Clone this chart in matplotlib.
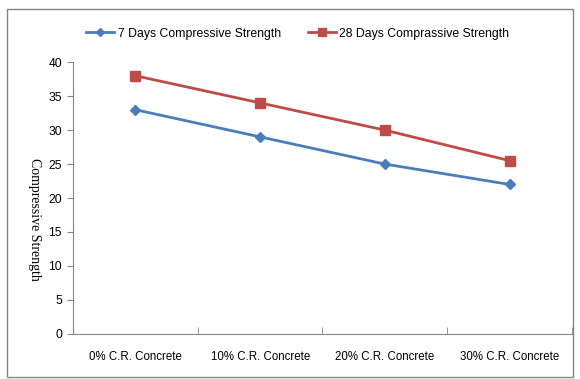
import matplotlib.pyplot as plt
from matplotlib.patches import Rectangle

categories = ["0% C.R. Concrete", "10% C.R. Concrete", "20% C.R. Concrete", "30% C.R. Concrete"]
days7 = [33, 29, 25, 22]
days28 = [38, 34, 30, 25.5]
yticks = [0, 5, 10, 15, 20, 25, 30, 35, 40]

plt.rcParams['font.family'] = ['Liberation Sans', 'DejaVu Sans']

fig = plt.figure(figsize=(5.8, 3.79), dpi=100)
ax = fig.add_axes([0.126, 0.119, 0.86, 0.717])

x = list(range(len(categories)))
ax.plot(x, days7, color="#4A7EBB", lw=2, marker="D", ms=5, label="7 Days Compressive Strength")
ax.plot(x, days28, color="#BE4B48", lw=2, marker="s", ms=7, label="28 Days Comprassive Strength")

ax.set_xlim(-0.5, len(categories) - 0.5)
ax.set_ylim(0, 40)
ax.set_yticks(yticks)
ax.set_xticks(x)
ax.set_xticklabels(categories, fontsize=8.3)
ax.set_xticks([i - 0.5 for i in range(len(categories) + 1)], minor=True)
ax.tick_params(axis="x", which="major", length=0, pad=12)
ax.tick_params(axis="x", which="minor", length=5, color="#868686", direction="in")
ax.tick_params(axis="y", length=4, color="#868686", labelsize=8.7, pad=4)

for s in ["top", "right"]:
    ax.spines[s].set_visible(False)
for s in ["left", "bottom"]:
    ax.spines[s].set_color("#868686")

ax.set_ylabel("Compressive Strength", rotation=-90, family="Liberation Serif",
              fontsize=10, labelpad=14)
ax.yaxis.set_label_coords(-0.09, 0.42)

ax.legend(loc="center", bbox_to_anchor=(0.45, 1.105), ncol=2, frameon=False,
          fontsize=8.8, handlelength=2.3, handletextpad=0.3, columnspacing=2.2,
          markerscale=0.8)

fig.patches.append(Rectangle((7 / 580, 2 / 379), 566 / 580, 368 / 379,
                             transform=fig.transFigure, fill=False,
                             edgecolor="#868686", lw=1))

fig.savefig("out.png", dpi=100)
